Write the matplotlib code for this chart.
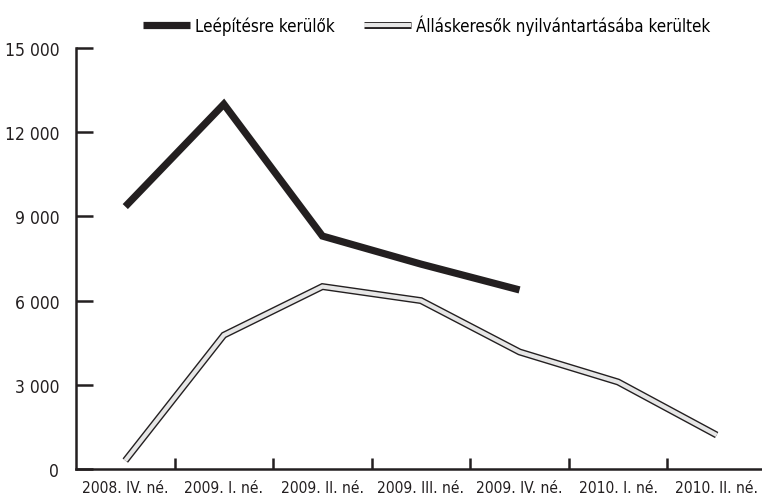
import numpy as np
import matplotlib
matplotlib.use('Agg')
import matplotlib.pyplot as plt
import matplotlib.patheffects as pe
from matplotlib import font_manager

# adatok
negyedevek = ['2008. IV. né.', '2009. I. né.', '2009. II. né.', '2009. III. né.',
              '2009. IV. né.', '2010. I. né.', '2010. II. né.']
leepites = [9350, 13000, 8300, 7300, 6380]
allaskeresok = [300, 4770, 6500, 6000, 4170, 3100, 1210]
y_ticks = [0, 3000, 6000, 9000, 12000, 15000]
y_labels = ['0', '3 000', '6 000', '9 000', '12 000', '15 000']

names = {f.name for f in font_manager.fontManager.ttflist}
if 'Liberation Sans Narrow' in names:
    plt.rcParams['font.family'] = ['Liberation Sans Narrow', 'DejaVu Sans']
else:
    plt.rcParams['font.family'] = ['DejaVu Sans']
    plt.rcParams['font.stretch'] = 'condensed'

fig = plt.figure(figsize=(7.62, 5.02), dpi=100)
ax = fig.add_axes([76/762, 32/502, 686/762, 421/502])

x1 = np.arange(len(leepites))
x2 = np.arange(len(allaskeresok))
ax.plot(x1, leepites, color='#231f20', lw=5.2, solid_joinstyle='miter',
        solid_capstyle='butt', label='Leépítésre kerülők')
ax.plot(x2, allaskeresok, color='#e6e6e6', lw=3.0, solid_joinstyle='miter',
        solid_capstyle='butt', label='Álláskeresők nyilvántartásába kerültek',
        path_effects=[pe.Stroke(linewidth=5.0, foreground='#231f20'), pe.Normal()])

ax.set_xlim(-0.5, 6.46)
ax.set_ylim(0, 15000)
ax.set_yticks(y_ticks)
ax.set_yticklabels(y_labels)
ax.set_xticks(np.arange(0.5, 6.5, 1))
ax.set_xticklabels([])
ax.set_xticks(np.arange(len(negyedevek)), minor=True)
ax.set_xticklabels(negyedevek, minor=True)

for s in ['top', 'right']:
    ax.spines[s].set_visible(False)
for s in ['left', 'bottom']:
    ax.spines[s].set_linewidth(1.8)
    ax.spines[s].set_color('#231f20')
ax.spines['left'].set_capstyle('projecting')

ax.tick_params(axis='y', direction='in', length=12, width=1.8, color='#231f20',
               labelsize=12.5, pad=12)
ax.tick_params(axis='x', which='major', direction='in', length=8, width=1.8,
               color='#231f20')
ax.tick_params(axis='x', which='minor', length=0, labelsize=11.2, pad=8)
for lab in ax.get_xticklabels(minor=True) + ax.get_yticklabels():
    lab.set_color('#231f20')

leg = fig.legend(loc='upper left', bbox_to_anchor=(136/762, 1 - 9/502), ncol=2,
                 frameon=False, fontsize=12.2, handlelength=2.8, handletextpad=0.3,
                 columnspacing=1.7, borderaxespad=0)

fig.savefig('out.png', dpi=100)
